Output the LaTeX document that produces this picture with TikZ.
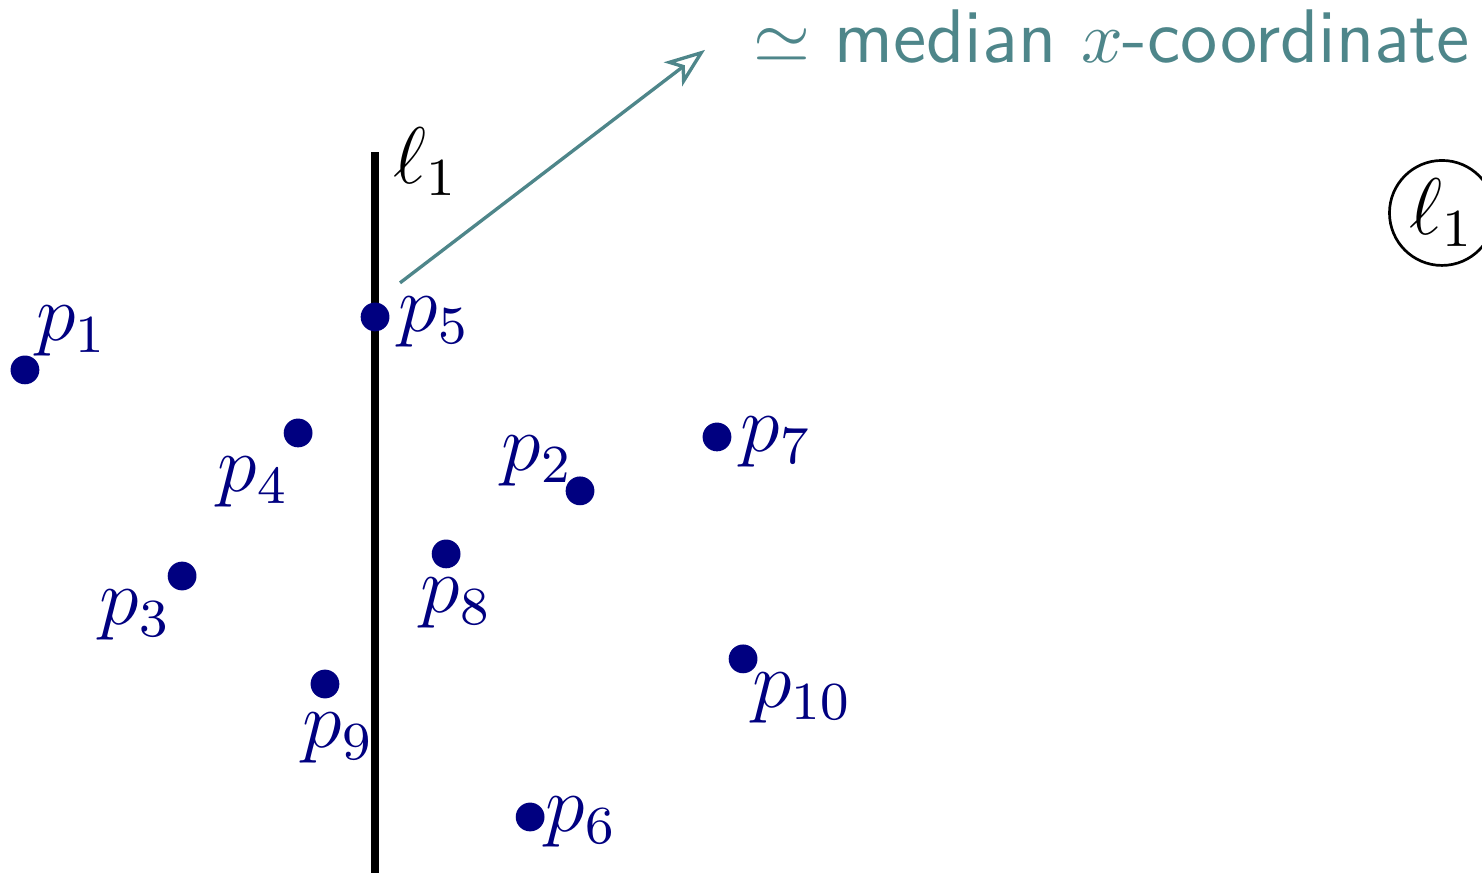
\documentclass[tikz,border=0pt]{standalone}
\usepackage{amsmath,amssymb}
\usepackage{xcolor}
\usepackage{tikz}
\usetikzlibrary{arrows.meta,positioning}
\definecolor{pointblue}{RGB}{0,0,128}
\definecolor{hint}{RGB}{78,134,138}

\begin{document}
\begin{tikzpicture}[
  dot/.style={circle,fill=pointblue,inner sep=0pt,minimum size=4.3pt},
  plabel/.style={text=pointblue,inner sep=1pt,font=\large},
  splitline/.style={line width=1.1pt,draw=black},
  pointer/.style={-{Stealth[open,length=6pt,width=4.5pt,inset=1.6pt]},draw=hint,line width=.5pt},
  note/.style={text=hint,font=\fontsize{11.35pt}{13pt}\selectfont\sffamily,inner sep=0pt},
  tag/.style={circle,draw,line width=.4pt,inner sep=.6pt,font=\large}
]
\useasboundingbox (0,0) rectangle (7.78,4.583);
% splitting line
\coordinate (top) at (1.969,3.785);
\coordinate (bot) at (1.969,0);
\draw[splitline] (bot) -- (top);
\node[anchor=west,font=\large,xshift=-.75pt,yshift=-1.5pt] (lname) at (top) {$\ell_1$};
% points
\node[dot] (p1) at (0.131,2.641) {};
\node[dot] (p2) at (3.045,2.006) {};
\node[dot] (p3) at (0.956,1.559) {};
\node[dot] (p4) at (1.565,2.310) {};
\node[dot] (p5) at (1.969,2.919) {};
\node[dot] (p6) at (2.783,0.294) {};
\node[dot] (p7) at (3.764,2.289) {};
\node[dot] (p8) at (2.342,1.675) {};
\node[dot] (p9) at (1.706,0.992) {};
\node[dot] (p10) at (3.901,1.124) {};
\node[plabel,above right=-.75pt and -1.2pt of p1] (lp1) {$p_1$};
\node[plabel,above left=-2.1pt and -1.8pt of p2] (lp2) {$p_2$};
\node[plabel,below left=-.75pt and -1.2pt of p3] (lp3) {$p_3$};
\node[plabel,below left=.75pt and -1.5pt of p4] (lp4) {$p_4$};
\node[plabel,right=0pt of p5,yshift=-.75pt] (lp5) {$p_5$};
\node[plabel,right=-1.2pt of p6,yshift=-.75pt] (lp6) {$p_6$};
\node[plabel,right=0pt of p7,yshift=-.75pt] (lp7) {$p_7$};
\node[plabel,below=0pt of p8,xshift=1.5pt] (lp8) {$p_8$};
\node[plabel,below=.75pt of p9,xshift=2pt] (lp9) {$p_9$};
\node[plabel,below right=-.75pt and -1.5pt of p10] (lp10) {$p_{10}$};
% median hint
\coordinate (start) at (2.1,3.098);
\coordinate (tip) at (3.701,4.321);
\node[note,anchor=base west] (median) at ([shift={(7pt,-1.95pt)}]tip) {$\simeq$ median $x$-coordinate};
\draw[pointer] (start) -- (tip);
\node[tag] (step1) at (7.57,3.465) {$\ell_1$};
\end{tikzpicture}
\end{document}
